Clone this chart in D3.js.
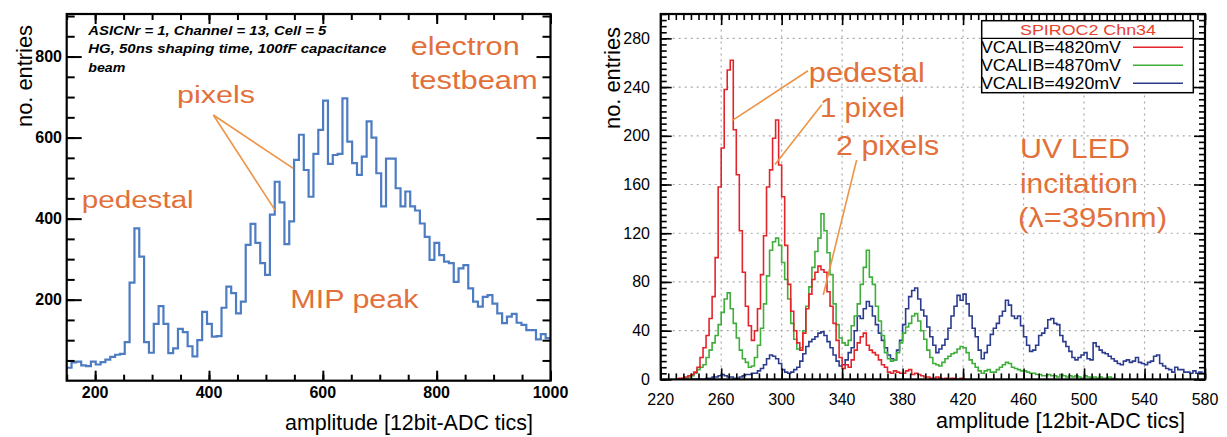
<!DOCTYPE html>
<html>
<head>
<meta charset="utf-8">
<script src="https://cdn.jsdelivr.net/npm/d3@7"></script>
<style>
  body { margin: 0; background: #fff; }
  text { font-family: "Liberation Sans", Arial, sans-serif; }
</style>
</head>
<body>
<svg id="chart" width="1227" height="437"></svg>
<script>
// ---- left panel: electron testbeam, 100 bins from 150 to 1000
const beamStart = 150, beamBin = 8.5;
const beamCounts = [
  32, 45, 47, 38, 36, 47, 40, 46, 52, 59,
  64, 66, 95, 242, 376, 306, 95, 69, 140, 184,
  140, 68, 80, 128, 120, 85, 60, 100, 170, 140,
  109, 110, 180, 232, 216, 166, 195, 335, 387, 340,
  290, 261, 410, 491, 440, 337, 393, 545, 607, 520,
  454, 560, 619, 691, 535, 557, 560, 697, 590, 537,
  508, 553, 640, 600, 512, 430, 548, 548, 475, 430,
  467, 430, 420, 388, 355, 298, 340, 310, 294, 290,
  244, 277, 285, 228, 195, 183, 207, 211, 190, 166,
  142, 158, 165, 143, 138, 125, 125, 102, 115, 105
];
const leftXTicks = [200, 400, 600, 800, 1000];
const leftYTicks = [200, 400, 600, 800];
const beamInfo = [
  "ASICNr = 1, Channel = 13, Cell = 5",
  "HG, 50ns shaping time, 100fF capacitance",
  "beam"
];

// ---- right panel: UV LED, bins of 2 ADC tics starting at 230
const ledStart = 230, ledBin = 2;
const red4820 = [
  0, 1, 1, 2, 3, 4, 6, 10, 18, 26,
  36, 50, 68, 100, 158, 190, 238, 254, 262, 205,
  168, 122, 88, 60, 44, 32, 40, 58, 86, 118,
  158, 172, 198, 213, 176, 150, 110, 78, 56, 40,
  30, 24, 38, 58, 70, 82, 88, 93, 90, 88,
  72, 60, 46, 32, 18, 9, 12, 10, 16, 24,
  30, 35, 38, 28, 24, 22, 20, 16, 12, 10,
  6, 5, 7, 6, 5, 5, 7, 8, 4, 5,
  4, 3, 2, 2, 1, 1, 2, 1, 0, 1,
  0, 1, 0, 0, 1, 0
];
const green4870 = [
  0, 0, 1, 1, 2, 3, 5, 8, 10, 12,
  18, 24, 30, 36, 45, 55, 66, 71, 58, 46,
  34, 24, 17, 14, 10, 11, 18, 28, 42, 62,
  85, 106, 113, 116, 110, 96, 82, 66, 46, 33,
  25, 26, 40, 60, 76, 92, 105, 116, 136, 122,
  104, 86, 62, 45, 34, 30, 28, 32, 44, 52,
  62, 78, 92, 106, 84, 78, 60, 48, 36, 22,
  17, 15, 16, 22, 30, 38, 43, 46, 52, 54,
  48, 40, 33, 24, 18, 13, 12, 11, 14, 17,
  19, 21, 22, 25, 27, 26, 22, 16, 13, 10,
  7, 5, 7, 8, 6, 6, 8, 10, 12, 14,
  13, 10, 9, 8, 7, 7, 6, 5, 5, 4,
  4, 3, 3, 4, 3, 3, 2, 4, 3, 2,
  3, 2, 3, 2, 1, 3, 2, 1, 2, 1,
  2, 1, 1, 2, 1, 0
];
const blue4920 = [
  0, 0, 0, 0, 0, 0, 0, 0, 0, 0,
  1, 1, 2, 2, 3, 4, 3, 2, 2, 1,
  1, 2, 3, 4, 4, 5, 5, 7, 9, 12,
  17, 20, 19, 17, 13, 8, 6, 5, 6, 8,
  10, 15, 21, 27, 31, 33, 35, 38, 39, 36,
  31, 26, 20, 15, 11, 12, 16, 22, 26, 40,
  52, 50, 58, 64, 60, 52, 45, 38, 32, 26,
  20, 17, 16, 24, 32, 45, 58, 68, 73, 75,
  66, 57, 52, 43, 35, 28, 22, 25, 28, 33,
  42, 52, 60, 69, 65, 70, 62, 52, 42, 35,
  24, 17, 22, 28, 37, 42, 46, 52, 56, 65,
  61, 52, 50, 52, 44, 35, 28, 23, 24, 28,
  36, 38, 42, 49, 50, 46, 45, 36, 31, 27,
  23, 18, 16, 18, 20, 22, 17, 16, 30, 27,
  24, 22, 21, 19, 17, 15, 13, 12, 15, 16,
  14, 15, 18, 14, 13, 12, 14, 15, 19, 20,
  13, 11, 9, 8, 6, 10, 8, 8, 6, 6,
  5, 7, 5, 6, 5
];
const rightXTicks = [220, 260, 300, 340, 380, 420, 460, 500, 540, 580];
const rightYTicks = [0, 40, 80, 120, 160, 200, 240, 280];
const legendTitle = "SPIROC2 Chn34";
const legendLabels = ["VCALIB=4820mV", "VCALIB=4870mV", "VCALIB=4920mV"];
const legendColors = ["#e3242b", "#3fae3a", "#2b3c8f"];

const orange = "#e2703a", arrowOrange = "#ec9548";

let svg = d3.select("#chart");

// text helper: stretch to a measured width like the reference
function label(g, str, x, y, opts) {
  let t = g.append("text").attr("x", x).attr("y", y).text(str)
    .attr("font-size", opts.size).attr("fill", opts.fill || "#000");
  if (opts.len) t.attr("textLength", opts.len).attr("lengthAdjust", "spacingAndGlyphs");
  if (opts.anchor) t.attr("text-anchor", opts.anchor);
  if (opts.weight) t.attr("font-weight", opts.weight);
  if (opts.style) t.attr("font-style", opts.style);
  if (opts.family) t.attr("font-family", opts.family);
  if (opts.rotate) t.attr("transform", `rotate(-90,${x},${y})`);
  return t;
}

function histPoints(counts, start, bin) {
  let pts = counts.map((c, i) => [start + i * bin, c]);
  pts.push([start + counts.length * bin, counts[counts.length - 1]]);
  return pts;
}

// ================= LEFT PANEL =================
let xL = d3.scaleLinear().domain([150, 1000]).range([66.7, 550.5]);
let yL = d3.scaleLinear().domain([0, 905]).range([380.7, 14]);
let gl = svg.append("g");

gl.append("clipPath").attr("id", "clipL").append("rect")
  .attr("x", 66.7).attr("y", 14).attr("width", 550.5 - 66.7).attr("height", 380.7 - 14);

let lineL = d3.line().x(d => xL(d[0])).y(d => yL(d[1])).curve(d3.curveStepAfter);
gl.append("path").attr("clip-path", "url(#clipL)")
  .attr("d", lineL(histPoints(beamCounts, beamStart, beamBin)))
  .attr("fill", "none").attr("stroke", "#4d7cc2").attr("stroke-width", 2.2);

// ticks on all four sides
const lMinX = d3.range(150, 1001, 50), lMinY = d3.range(50, 901, 50);
function ticksOnly(sel) { sel.select(".domain").remove(); sel.selectAll("text").remove(); }
gl.append("g").attr("transform", `translate(0,${yL(0)})`)
  .call(d3.axisBottom(xL).tickValues(lMinX).tickSize(-6)).call(ticksOnly);
gl.append("g").attr("transform", `translate(0,${yL(0)})`)
  .call(d3.axisBottom(xL).tickValues(leftXTicks).tickSize(-10)).call(ticksOnly);
gl.append("g").attr("transform", `translate(0,14)`)
  .call(d3.axisTop(xL).tickValues(lMinX).tickSize(-6)).call(ticksOnly);
gl.append("g").attr("transform", `translate(0,14)`)
  .call(d3.axisTop(xL).tickValues(leftXTicks).tickSize(-10)).call(ticksOnly);
gl.append("g").attr("transform", `translate(${xL(150)},0)`)
  .call(d3.axisLeft(yL).tickValues(lMinY).tickSize(-8)).call(ticksOnly);
gl.append("g").attr("transform", `translate(${xL(150)},0)`)
  .call(d3.axisLeft(yL).tickValues(leftYTicks).tickSize(-15)).call(ticksOnly);
gl.append("g").attr("transform", `translate(${xL(1000)},0)`)
  .call(d3.axisRight(yL).tickValues(lMinY).tickSize(-8)).call(ticksOnly);
gl.append("g").attr("transform", `translate(${xL(1000)},0)`)
  .call(d3.axisRight(yL).tickValues(leftYTicks).tickSize(-14)).call(ticksOnly);
gl.selectAll(".tick line").attr("stroke", "#000").attr("stroke-width", 2);

gl.append("rect").attr("x", 66.7).attr("y", 14).attr("width", 550.5 - 66.7).attr("height", 380.7 - 14)
  .attr("fill", "none").attr("stroke", "#000").attr("stroke-width", 2.2);

leftXTicks.forEach(v => label(gl, v, xL(v), 398, { size: 16, anchor: "middle", weight: "bold", family: "Liberation Serif" }));
leftYTicks.forEach(v => label(gl, v, 62, yL(v) + 5.5, { size: 16, anchor: "end", weight: "bold", family: "Liberation Serif" }));

label(gl, "no. entries", 31.5, 76, { size: 22, anchor: "middle", rotate: true, len: 102 });
label(gl, "amplitude [12bit-ADC tics]", 409, 430, { size: 22, anchor: "middle", len: 248 });

beamInfo.forEach((s, i) => label(gl, s, xL(188), yL([853, 808, 762.6][i]),
  { size: 12.5, weight: "bold", style: "italic", len: [238, 298, 37][i] }));

// arrows to the pixel peaks
[[516, 421], [548, 524]].forEach(p => {
  gl.append("line").attr("x1", xL(407.6)).attr("y1", yL(655.7)).attr("x2", xL(p[0])).attr("y2", yL(p[1]))
    .attr("stroke", arrowOrange).attr("stroke-width", 1.6);
});
label(gl, "pixels", xL(343.7), yL(686), { size: 23, fill: orange, len: 78 });
label(gl, "pedestal", xL(176.4), yL(425.7), { size: 23, fill: orange, len: 112 });
label(gl, "MIP peak", xL(543), yL(179), { size: 26, fill: orange, len: 128 });
label(gl, "electron", xL(754.4), yL(804), { size: 25, fill: orange, len: 109 });
label(gl, "testbeam", xL(754.4), yL(719.5), { size: 25, fill: orange, len: 127 });

// ================= RIGHT PANEL =================
let xR = d3.scaleLinear().domain([220, 580]).range([660.7, 1205]);
let yR = d3.scaleLinear().domain([0, 300]).range([379.4, 14]);
let gr = svg.append("g");

// dotted grid
rightXTicks.slice(1, -1).forEach(v => gr.append("line")
  .attr("x1", xR(v)).attr("x2", xR(v)).attr("y1", yR(0)).attr("y2", yR(300))
  .attr("stroke", "#a8a8a8").attr("stroke-width", 1.2).attr("stroke-dasharray", "2,4"));
rightYTicks.slice(1).forEach(v => gr.append("line")
  .attr("x1", xR(220)).attr("x2", xR(580)).attr("y1", yR(v)).attr("y2", yR(v))
  .attr("stroke", "#a8a8a8").attr("stroke-width", 1.2).attr("stroke-dasharray", "2,4"));

gr.append("clipPath").attr("id", "clipR").append("rect")
  .attr("x", 660.7).attr("y", 14).attr("width", 1205 - 660.7).attr("height", 379.4 - 14);
let lineR = d3.line().x(d => xR(d[0])).y(d => yR(d[1])).curve(d3.curveStepAfter);
[[blue4920, 2], [green4870, 1], [red4820, 0]].forEach(([arr, ci]) => {
  gr.append("path").attr("clip-path", "url(#clipR)")
    .attr("d", lineR(histPoints(arr, ledStart, ledBin)))
    .attr("fill", "none").attr("stroke", legendColors[ci]).attr("stroke-width", 1.6);
});

const rMinX = d3.range(220, 581, 5), rMinY = d3.range(0, 301, 5);
gr.append("g").attr("transform", `translate(0,${yR(0)})`)
  .call(d3.axisBottom(xR).tickValues(rMinX).tickSize(-6)).call(ticksOnly);
gr.append("g").attr("transform", `translate(0,${yR(0)})`)
  .call(d3.axisBottom(xR).tickValues(rightXTicks).tickSize(-11)).call(ticksOnly);
gr.append("g").attr("transform", `translate(0,14)`)
  .call(d3.axisTop(xR).tickValues(rMinX).tickSize(-6)).call(ticksOnly);
gr.append("g").attr("transform", `translate(0,14)`)
  .call(d3.axisTop(xR).tickValues(rightXTicks).tickSize(-11)).call(ticksOnly);
gr.append("g").attr("transform", `translate(${xR(220)},0)`)
  .call(d3.axisLeft(yR).tickValues(rMinY).tickSize(-6)).call(ticksOnly);
gr.append("g").attr("transform", `translate(${xR(220)},0)`)
  .call(d3.axisLeft(yR).tickValues(rightYTicks).tickSize(-11)).call(ticksOnly);
gr.append("g").attr("transform", `translate(${xR(580)},0)`)
  .call(d3.axisRight(yR).tickValues(rMinY).tickSize(-6)).call(ticksOnly);
gr.append("g").attr("transform", `translate(${xR(580)},0)`)
  .call(d3.axisRight(yR).tickValues(rightYTicks).tickSize(-11)).call(ticksOnly);
gr.selectAll(".tick line").attr("stroke", "#000").attr("stroke-width", 1.6);

gr.append("rect").attr("x", 660.7).attr("y", 14).attr("width", 1205 - 660.7).attr("height", 379.4 - 14)
  .attr("fill", "none").attr("stroke", "#000").attr("stroke-width", 2.2);

rightXTicks.forEach(v => label(gr, v, xR(v), 405, { size: 16, anchor: "middle" }));
rightYTicks.forEach(v => label(gr, v, 650, yR(v) + 5.5, { size: 16, anchor: "end" }));
label(gr, "no. entries", 620, 78, { size: 22, anchor: "middle", rotate: true, len: 102 });
label(gr, "amplitude [12bit-ADC tics]", 1060.5, 428.3, { size: 22, anchor: "middle", len: 249 });

// legend
let lg = gr.append("g");
lg.append("rect").attr("x", 981.7).attr("y", 20.7).attr("width", 211.6).attr("height", 72)
  .attr("fill", "#fff").attr("stroke", "#000").attr("stroke-width", 1.5);
lg.append("line").attr("x1", 981.7).attr("x2", 1193.3).attr("y1", 38.3).attr("y2", 38.3)
  .attr("stroke", "#000").attr("stroke-width", 1.2);
label(lg, legendTitle, 1088, 35, { size: 15, anchor: "middle", fill: "#e8412c", len: 136 });
legendLabels.forEach((s, i) => {
  label(lg, s, 981, 53.3 + i * 18, { size: 16, len: 140 });
  lg.append("line").attr("x1", 1133).attr("x2", 1183).attr("y1", 47.3 + i * 18).attr("y2", 47.3 + i * 18)
    .attr("stroke", legendColors[i]).attr("stroke-width", 1.6);
});

// annotations
[[[317.4, 253.4], [267.2, 212.4]], [[326.5, 225.4], [295.6, 176.5]], [[349.6, 180.1], [327.5, 69.3]]]
  .forEach(([a, b]) => gr.append("line")
    .attr("x1", xR(a[0])).attr("y1", yR(a[1])).attr("x2", xR(b[0])).attr("y2", yR(b[1]))
    .attr("stroke", arrowOrange).attr("stroke-width", 1.6));
label(gr, "pedestal", xR(318), yR(244.4), { size: 27, fill: orange, len: 116 });
label(gr, "1 pixel", xR(325.4), yR(215.7), { size: 27, fill: orange, len: 85 });
label(gr, "2 pixels", xR(336), yR(184.2), { size: 27, fill: orange, len: 103 });
label(gr, "UV LED", xR(457.6), yR(181.5), { size: 28, fill: orange, len: 110 });
label(gr, "incitation", xR(457.6), yR(152.8), { size: 28, fill: orange, len: 118 });
label(gr, "(λ=395nm)", xR(456.3), yR(125.4), { size: 28, fill: orange, len: 149 });
</script>
</body>
</html>
